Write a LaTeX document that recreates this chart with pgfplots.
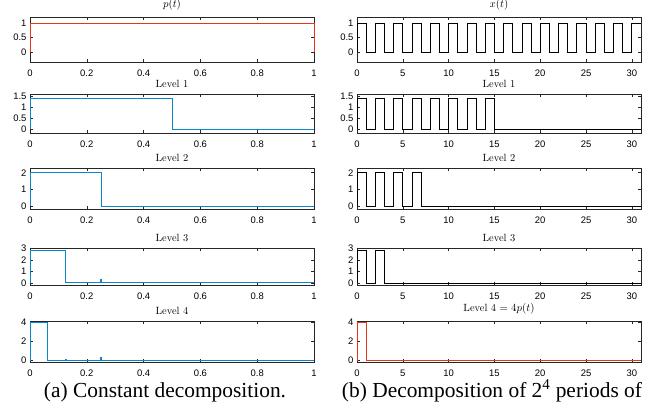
\documentclass[border=0pt]{standalone}
\usepackage{pgfplots}
\pgfplotsset{compat=1.18}
\usepackage{fontspec}
\newfontfamily\tickfont{Liberation Sans}
\newfontfamily\capfont{Liberation Serif}
\definecolor{mred}{rgb}{0.90,0.22,0.10}
\definecolor{mblue}{rgb}{0.05,0.52,0.80}
\pgfplotsset{
 mstyle/.style={
   scale only axis, width=284bp, anchor=north west,
   axis line style={draw=black!85, line width=0.8bp},
   tick style={draw=black!85, line width=0.5bp},
   tick align=inside, tick pos=both, xticklabel pos=lower, yticklabel pos=left,
   major tick length=3bp,
   ticklabel style={font=\tickfont\fontsize{9.5}{10}\selectfont},
   xticklabel style={yshift=-4bp},
   /pgf/number format/assume math mode=true,
   title style={font=\fontsize{10.5}{11}\selectfont, inner sep=0.5bp, yshift=0bp},
   clip=false,
 },
 lcol/.style={mstyle, xmin=0, xmax=1, xtick={0,0.2,0.4,0.6,0.8,1}},
 rcol/.style={mstyle, xmin=0, xmax=31, xtick={0,5,10,15,20,25,30}},
 bl/.style={mblue, line width=0.9bp},
 rd/.style={mred, line width=0.9bp},
 bk/.style={black, line width=0.8bp},
}
\begin{document}
\begin{tikzpicture}
\useasboundingbox (0,0) rectangle (670bp,-418bp);
% ---------------- left column ----------------
\begin{axis}[lcol, at={(30bp,-17bp)}, height=45bp, ymin=-0.35, ymax=1.22, ytick={0,0.5,1}, title={$p(t)$}]
\addplot[rd] coordinates {(0,0)(0,1)(1,1)(1,0)};
\end{axis}
\begin{axis}[lcol, at={(30bp,-94bp)}, height=39bp, ymin=-0.18, ymax=1.62, ytick={0,0.5,1,1.5}, title={Level 1}]
\addplot[bl] coordinates {(0,0)(0,1.414)(0.5,1.414)(0.5,0)(1,0)};
\end{axis}
\begin{axis}[lcol, at={(30bp,-168bp)}, height=41bp, ymin=-0.15, ymax=2.28, ytick={0,1,2}, title={Level 2}]
\addplot[bl] coordinates {(0,0)(0,2)(0.25,2)(0.25,0)(1,0)};
\end{axis}
\begin{axis}[lcol, at={(30bp,-248bp)}, height=37bp, ymin=-0.17, ymax=3.05, ytick={0,1,2,3}, title={Level 3}]
\addplot[bl] coordinates {(0,0)(0,2.83)(0.125,2.83)(0.125,0.03)(0.248,0.03)(0.248,0.33)(0.251,0.33)(0.251,0.03)(1,0.03)};
\end{axis}
\begin{axis}[lcol, at={(30bp,-321bp)}, height=41bp, ymin=-0.14, ymax=4.18, ytick={0,2,4}, title={Level 4}]
\addplot[bl] coordinates {(0,0)(0,4)(0.0625,4)(0.0625,0.02)(0.124,0.02)(0.124,0.1)(0.127,0.1)(0.127,0.02)(0.248,0.02)(0.248,0.35)(0.251,0.35)(0.251,0.02)(1,0.02)};
\end{axis}
% ---------------- right column ----------------
\begin{axis}[rcol, at={(357bp,-17bp)}, height=45bp, ymin=-0.35, ymax=1.22, ytick={0,0.5,1}, title={$x(t)$}]
\addplot[bk] coordinates {(0,0)(0,1)(1,1)(1,0)(2,0)(2,1)(3,1)(3,0)(4,0)(4,1)(5,1)(5,0)(6,0)(6,1)(7,1)(7,0)(8,0)(8,1)(9,1)(9,0)(10,0)(10,1)(11,1)(11,0)(12,0)(12,1)(13,1)(13,0)(14,0)(14,1)(15,1)(15,0)(16,0)(16,1)(17,1)(17,0)(18,0)(18,1)(19,1)(19,0)(20,0)(20,1)(21,1)(21,0)(22,0)(22,1)(23,1)(23,0)(24,0)(24,1)(25,1)(25,0)(26,0)(26,1)(27,1)(27,0)(28,0)(28,1)(29,1)(29,0)(30,0)(30,1)(31,1)};
\end{axis}
\begin{axis}[rcol, at={(357bp,-94bp)}, height=39bp, ymin=-0.18, ymax=1.62, ytick={0,0.5,1,1.5}, title={Level 1}]
\addplot[bk] coordinates {(0,0)(0,1.414)(1,1.414)(1,0)(2,0)(2,1.414)(3,1.414)(3,0)(4,0)(4,1.414)(5,1.414)(5,0)(6,0)(6,1.414)(7,1.414)(7,0)(8,0)(8,1.414)(9,1.414)(9,0)(10,0)(10,1.414)(11,1.414)(11,0)(12,0)(12,1.414)(13,1.414)(13,0)(14,0)(14,1.414)(15,1.414)(15,0)(31,0)};
\end{axis}
\begin{axis}[rcol, at={(357bp,-168bp)}, height=41bp, ymin=-0.15, ymax=2.28, ytick={0,1,2}, title={Level 2}]
\addplot[bk] coordinates {(0,0)(0,2)(1,2)(1,0)(2,0)(2,2)(3,2)(3,0)(4,0)(4,2)(5,2)(5,0)(6,0)(6,2)(7,2)(7,0)(31,0)};
\end{axis}
\begin{axis}[rcol, at={(357bp,-248bp)}, height=37bp, ymin=-0.17, ymax=3.05, ytick={0,1,2,3}, title={Level 3}]
\addplot[bk] coordinates {(0,0)(0,2.83)(1,2.83)(1,0)(2,0)(2,2.83)(3,2.83)(3,0)(31,0)};
\end{axis}
\begin{axis}[rcol, at={(357bp,-321bp)}, height=41bp, ymin=-0.14, ymax=4.18, ytick={0,2,4}, title={Level 4 $=4p(t)$}]
\addplot[rd] coordinates {(0,0)(0,4)(1,4)(1,0)(31,0)};
\end{axis}
% ---------------- captions ----------------
\node[anchor=base, inner sep=0pt, font=\capfont\fontsize{21.5}{24}\selectfont] at (165bp,-397bp) {(a) Constant decomposition.};
\node[anchor=base, inner sep=0pt, font=\capfont\fontsize{21.5}{24}\selectfont] at (492bp,-397bp) {(b) Decomposition of 2\textsuperscript{4} periods of};
\end{tikzpicture}
\end{document}
